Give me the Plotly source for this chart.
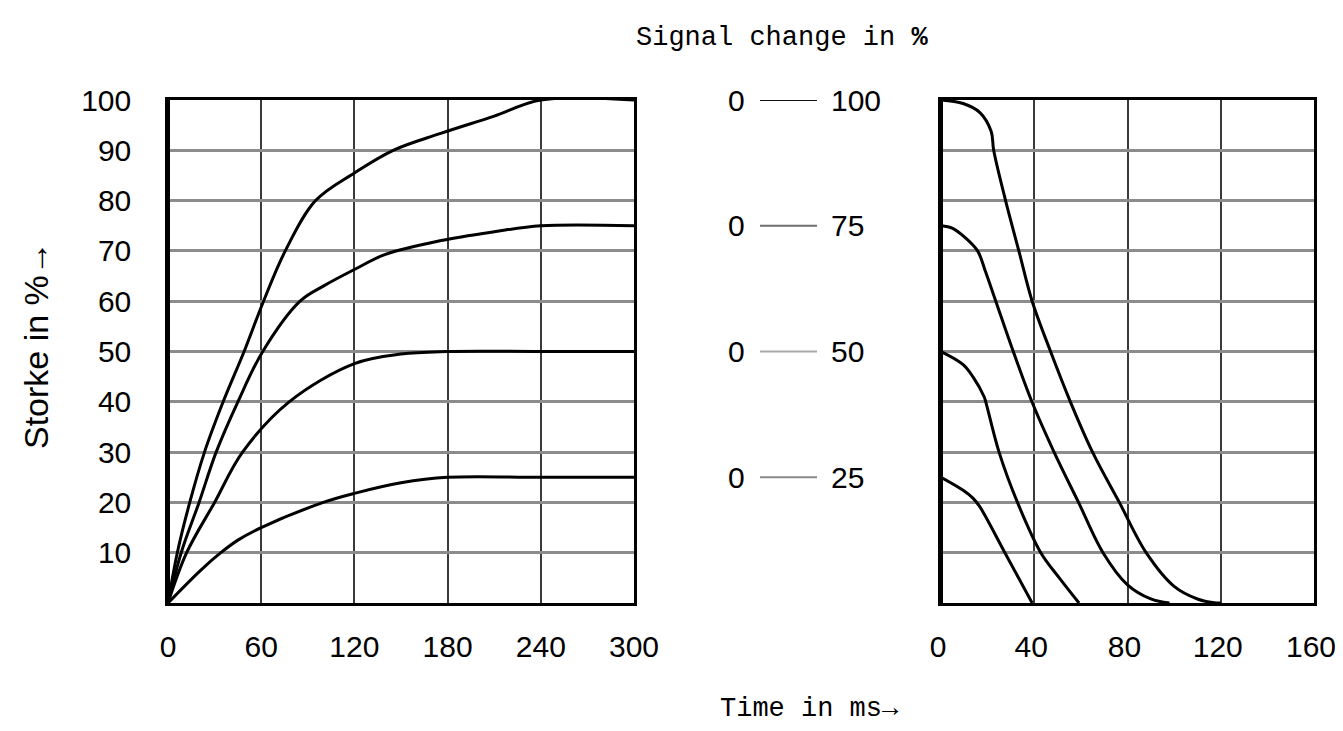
import plotly.graph_objects as go

W, H = 1343, 715
OFF = 8  # page body margin

# ---------------- data ----------------
# left panel: stroke build-up (time in ms -> stroke in %)
rise100_t = [0, 6, 14, 23.5, 35.5, 49, 61.5, 75.5, 95, 120, 145, 175, 210, 240, 300]
rise100_v = [0, 10, 20, 30, 40, 50, 60, 70, 80, 85.5, 90, 93.3, 96.8, 100, 100]

rise75_t = [0, 8.5, 20, 31, 45, 61, 85, 100, 120, 140, 175, 210, 240, 300]
rise75_v = [0, 10, 20, 30, 40, 50, 60, 63, 66.3, 69.3, 72, 73.8, 75, 75]

rise50_t = [0, 12, 30, 48, 78, 120, 150, 180, 240, 300]
rise50_v = [0, 10, 20, 30, 40, 47.6, 49.5, 50, 50, 50]

rise25_t = [0, 21, 34, 45, 60, 100, 120, 150, 180, 240, 300]
rise25_v = [0, 6.5, 10, 12.5, 15, 20, 21.8, 23.9, 25, 25, 25]

# right panel: stroke decay (time in ms -> stroke in %)
fall100_t = [0, 9.5, 16.7, 21.5, 22.6, 27.7, 33.4, 39.1, 47, 55.5, 65, 76.5, 88, 100, 110, 118, 120]
fall100_v = [100, 99.3, 97.5, 93.8, 90, 80, 70, 60, 50, 40, 30, 20, 10, 3.3, 0.8, 0, 0]

fall75_t = [0, 5, 10, 15.7, 19, 23.5, 31, 39, 48.5, 59, 69.5, 80, 90, 98]
fall75_v = [75, 74.5, 72.8, 70, 66, 60, 50, 40, 30, 20, 10, 3.6, 0.8, 0]

fall50_t = [0, 9.5, 13.8, 18.5, 19.2, 24.9, 32.8, 42.8, 50.9, 59.2]
fall50_v = [50, 47.4, 44.9, 41, 40, 30, 20, 10, 4.9, 0]

fall25_t = [0, 9.5, 13.8, 16.7, 27.4, 39.1]
fall25_v = [25, 22.4, 20.8, 19.1, 10, 0]

signal_levels = [100, 75, 50, 25]

left_xticks = [0, 60, 120, 180, 240, 300]
right_xticks = [0, 40, 80, 120, 160]
y_ticks = [10, 20, 30, 40, 50, 60, 70, 80, 90, 100]

# ---------------- styles ----------------
NARROW = "Liberation Sans Narrow, Arial Narrow, Liberation Sans, Arial, sans-serif"
MONO = "Liberation Mono, DejaVu Sans Mono, monospace"
dark_rows = [10, 20, 90]
legend_line_colors = {100: "#111111", 75: "#6e6e6e", 50: "#a8a8a8", 25: "#8a8a8a"}


def px_x(p):
    return (p - OFF) / W


def px_y(p):
    return (H - (p - OFF)) / H


fig = go.Figure()

curve = dict(color="black", width=3, shape="spline", smoothing=1.0)
for t, v in [(rise100_t, rise100_v), (rise75_t, rise75_v), (rise50_t, rise50_v), (rise25_t, rise25_v)]:
    fig.add_trace(go.Scatter(x=t, y=v, mode="lines", line=curve, xaxis="x", yaxis="y",
                             showlegend=False, hoverinfo="skip"))
for t, v in [(fall100_t, fall100_v), (fall75_t, fall75_v), (fall50_t, fall50_v), (fall25_t, fall25_v)]:
    fig.add_trace(go.Scatter(x=t, y=v, mode="lines", line=curve, xaxis="x2", yaxis="y2",
                             showlegend=False, hoverinfo="skip"))

xdom_l = [px_x(168), px_x(634)]
xdom_r = [px_x(941), px_x(1314)]
ydom = [px_y(603), px_y(100)]

tickfont = dict(family=NARROW, size=30, color="black")
common_x = dict(showgrid=True, gridcolor="#3a3a3a", gridwidth=2, zeroline=False,
                showline=True, linecolor="black", linewidth=2.5, mirror=True,
                ticks="outside", ticklen=15, tickcolor="rgba(0,0,0,0)",
                ticklabeloverflow="allow", automargin=False,
                tickfont=tickfont, fixedrange=True)
common_y = dict(range=[0, 100], tickvals=y_ticks, showgrid=True, gridcolor="#8c8c8c",
                gridwidth=2.5, zeroline=False, showline=True, linecolor="black",
                linewidth=2.5, mirror=True, tickfont=tickfont, fixedrange=True,
                automargin=False)

fig.update_layout(
    width=W, height=H, margin=dict(l=0, r=0, t=0, b=0, autoexpand=False),
    paper_bgcolor="white", plot_bgcolor="white", showlegend=False,
    xaxis=dict(domain=xdom_l, range=[0, 300], tickvals=left_xticks, anchor="y", **common_x),
    yaxis=dict(domain=ydom, anchor="x", ticks="outside", ticklen=28,
               tickcolor="rgba(0,0,0,0)", **common_y),
    xaxis2=dict(domain=xdom_r, range=[0, 160], tickvals=right_xticks, anchor="y2",
                ticklabelshift=-3, **common_x),
    yaxis2=dict(domain=ydom, anchor="x2", showticklabels=False, ticks="", **common_y),
)

shapes = []
# darker horizontal grid rows and thick left borders
for xr, yr in [("x", "y"), ("x2", "y2")]:
    for v in dark_rows:
        shapes.append(dict(type="line", xref=xr + " domain", yref=yr, x0=0, x1=1, y0=v, y1=v,
                           line=dict(color="black", width=2), layer="below"))
    shapes.append(dict(type="line", xref=xr + " domain", yref=yr + " domain",
                       x0=0, x1=0, y0=0, y1=1, line=dict(color="black", width=4)))

# signal-change key in the middle
annotations = []
for lv in signal_levels:
    shapes.append(dict(type="line", xref="paper", yref="y", x0=px_x(760), x1=px_x(817), y0=lv, y1=lv,
                       line=dict(color=legend_line_colors[lv], width=2)))
    annotations.append(dict(xref="paper", yref="y", x=px_x(736), y=lv, text="0", showarrow=False,
                            xanchor="center", yanchor="middle", font=tickfont))
    annotations.append(dict(xref="paper", yref="y", x=px_x(829), y=lv, text=str(lv), showarrow=False,
                            xanchor="left", yanchor="middle", font=tickfont))

annotations.append(dict(xref="paper", yref="paper", x=px_x(782), y=px_y(38),
                        text="Signal change in <b>%</b>", showarrow=False,
                        xanchor="center", yanchor="middle",
                        font=dict(family=MONO, size=27, color="black")))
annotations.append(dict(xref="paper", yref="paper", x=px_x(809), y=px_y(709),
                        text="Time in ms\u2192", showarrow=False,
                        xanchor="center", yanchor="middle",
                        font=dict(family=MONO, size=27, color="black")))
annotations.append(dict(xref="paper", yref="paper", x=px_x(36), y=px_y(345),
                        text="Storke in %\u2192", showarrow=False, textangle=-90,
                        xanchor="center", yanchor="middle",
                        font=dict(family=NARROW, size=34, color="black")))

fig.update_layout(shapes=shapes, annotations=annotations)

fig.write_html("out.html")
